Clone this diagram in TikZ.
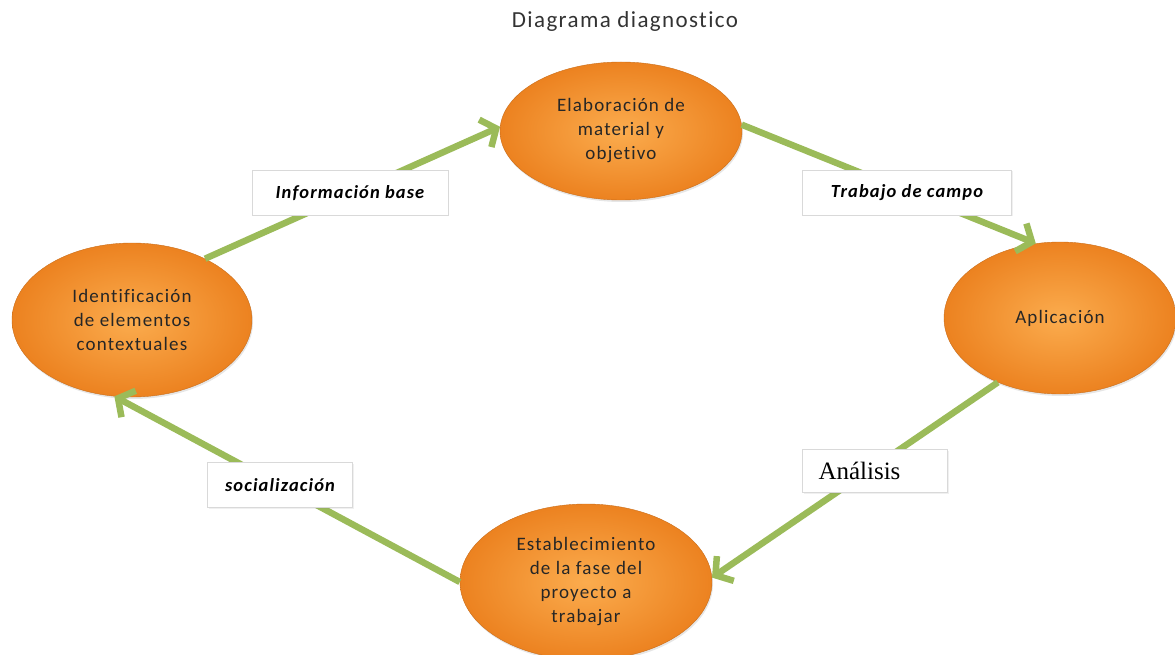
\documentclass[tikz,border=0pt]{standalone}
\usepackage{fontspec}
\setmainfont{Carlito}[LetterSpace=6,Ligatures=NoCommon]
\newfontfamily\timesfont{Liberation Serif}
\usetikzlibrary{arrows.meta,shapes.geometric,shadows}
\definecolor{orangelight}{RGB}{251,172,78}
\definecolor{orangedark}{RGB}{236,130,32}
\definecolor{flowgreen}{RGB}{155,187,89}

\begin{document}
\begin{tikzpicture}[x=1pt,y=-1pt,>=Latex,
  stage/.style={ellipse,draw=orangedark!85!black,inner sep=0pt,align=center,text=black!85,font=\fontsize{19}{24}\selectfont,inner color=orangelight,outer color=orangedark,drop shadow={opacity=0.2,shadow xshift=1pt,shadow yshift=-2pt}},
  tag/.style={draw=black!15,fill=white,minimum height=45pt,inner sep=0pt,font=\fontsize{18.5}{22}\selectfont\bfseries\itshape,drop shadow={opacity=0.12,shadow xshift=1pt,shadow yshift=-1pt}},
  flow/.style={draw=flowgreen,line width=6.5pt,-{Straight Barb[length=12pt,width=30pt]}}]
\useasboundingbox (0,0) rectangle (1175,655);
\node[font=\fontsize{23}{26}\selectfont,text=black!80] (title) at (625,21) {Diagrama diagnostico};
% etapas
\node[stage,minimum width=242pt,minimum height=138pt] (elab) at (621,131) {Elaboración de\\material y\\objetivo};
\node[stage,minimum width=232pt,minimum height=152pt] (aplic) at (1060,318) {Aplicación};
\node[stage,minimum width=252pt,minimum height=156pt] (estab) at (586,582) {Establecimiento\\de la fase del\\proyecto a\\trabajar};
\node[stage,minimum width=240pt,minimum height=154pt] (ident) at (132,320) {Identificación\\de elementos\\contextuales};
% flechas
\draw[flow] (ident.40) -- (elab.178);
\draw[flow] (elab.3) -- (aplic.108);
\draw[flow] (aplic.226) -- (estab.2);
\draw[flow] (estab.180) -- (ident.257);
% etiquetas
\node[tag,minimum width=196pt] (info) at (350,193) {Información base};
\node[tag,minimum width=209pt] (campo) at (907,193) {Trabajo de campo};
\node[tag,minimum width=145pt,minimum height=43pt,font=\fontsize{25}{28}\timesfont,text width=113pt,align=left] (anal) at (875,471) {Análisis};
\node[tag,minimum width=145pt] (social) at (280,485) {socialización};
\end{tikzpicture}
\end{document}
